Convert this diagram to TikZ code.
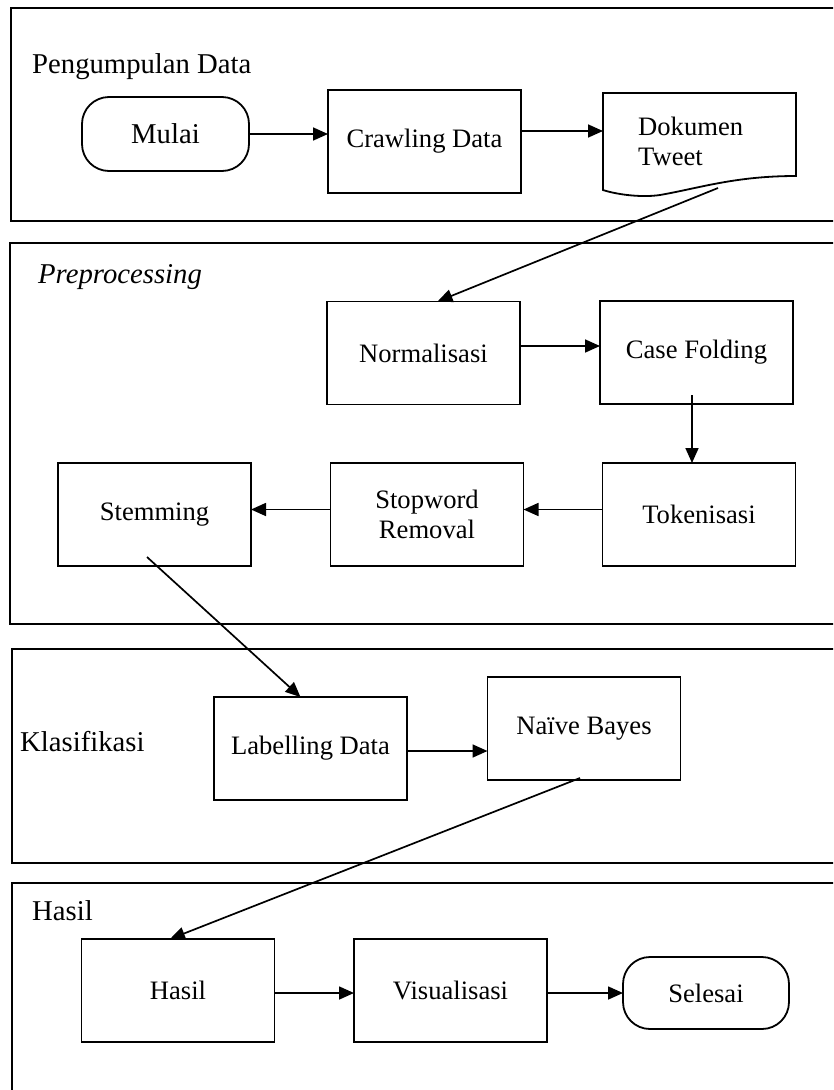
\documentclass[tikz,border=0pt]{standalone}
\usepackage{fontspec}
\setmainfont{Liberation Serif}
\usetikzlibrary{arrows.meta}
\newcommand\boxfont{\fontsize{26.6}{30}\selectfont}
\newcommand\titlefont{\fontsize{28.7}{32}\selectfont}
\begin{document}
\begin{tikzpicture}[x=1pt,y=-1pt,
  frame/.style={draw, line width=1.9pt},
  stepbox/.style={draw, line width=1.8pt, minimum width=193pt, minimum height=103pt, inner sep=0pt, outer sep=0pt, font=\boxfont, align=center},
  term/.style={draw, line width=1.8pt, rounded corners=27pt, inner sep=0pt, outer sep=0pt, align=center},
  title/.style={anchor=base west, font=\titlefont, inner sep=0pt},
  arr/.style={-{Triangle[length=15pt,width=13pt]}, line width=1.7pt}]
\useasboundingbox (0,0) rectangle (833,1090);
\clip (0,0) rectangle (833,1090);
% section frames
\draw[frame] (11,8) rectangle (850,221);
\draw[frame] (10,243) rectangle (850,624);
\draw[frame] (12,649) rectangle (850,863);
\draw[frame] (12,883) rectangle (850,1110);
% titles
\node[title] (t1) at (32,73) {Pengumpulan Data};
\node[title, font=\titlefont\itshape] (t2) at (38,283) {Preprocessing};
\node[title] (t3) at (20,751) {Klasifikasi};
\node[title] (t4) at (32,920) {Hasil};
% row 1
\node[term, minimum width=167pt, minimum height=74pt, font=\titlefont] (mulai) at (165.5,134) {Mulai};
\node[stepbox] (crawl) at (424.5,141.5) {Crawling Data};
\draw[line width=1.8pt] (603,93) -- (796,93) -- (796,176)
  .. controls (735,176) and (700,188) .. (660,195)
  .. controls (640,198) and (615,194) .. (603,190) -- cycle;
\node[anchor=west, font=\boxfont, align=left, inner sep=0pt] (dok) at (638,141) {Dokumen\\Tweet};
\coordinate (dokin) at (603,131);
\coordinate (dokout) at (718,188);
\draw[arr] (mulai.east) -- (crawl.west |- mulai.east);
\draw[arr] (crawl.east |- dokin) -- (dokin);
% preprocessing
\node[stepbox] (norm) at (423.5,353) {Normalisasi};
\node[stepbox] (case) at (696.5,352.5) {Case Folding};
\node[stepbox] (tok) at (699,514.5) {Tokenisasi};
\node[stepbox] (stop) at (427,514.5) {Stopword\\Removal};
\node[stepbox] (stem) at (154.5,514.5) {Stemming};
\draw[arr] (dokout) -- ([xshift=14pt]norm.north);
\draw[arr] ([yshift=7pt]norm.east) -- ([yshift=7pt]norm.east -| case.west);
\coordinate (cfout) at (692,395);
\draw[arr] (cfout) -- (cfout |- tok.north);
\draw[arr] ([yshift=5pt]tok.west) -- ([yshift=5pt]tok.west -| stop.east);
\draw[arr] ([yshift=5pt]stop.west) -- ([yshift=5pt]stop.west -| stem.east);
% klasifikasi
\node[stepbox] (label) at (310.5,748.5) {Labelling Data};
\node[stepbox] (naive) at (584,728.5) {Naïve Bayes};
\coordinate (stout) at (147,557);
\draw[arr] (stout) -- ([xshift=-10pt]label.north);
\draw[arr] ([yshift=-2.5pt]label.east) -- ([yshift=-2.5pt]label.east -| naive.west);
% hasil
\node[stepbox] (hasil) at (178,990.5) {Hasil};
\node[stepbox] (vis) at (450.5,990.5) {Visualisasi};
\node[term, minimum width=166pt, minimum height=72pt, font=\boxfont] (selesai) at (706,993) {Selesai};
\coordinate (nbout) at (580,778);
\draw[arr] (nbout) -- ([xshift=-8pt]hasil.north);
\draw[arr] ([yshift=-2.5pt]hasil.east) -- ([yshift=-2.5pt]hasil.east -| vis.west);
\draw[arr] ([yshift=-2.5pt]vis.east) -- ([yshift=-2.5pt]vis.east -| selesai.west);
\end{tikzpicture}
\end{document}
